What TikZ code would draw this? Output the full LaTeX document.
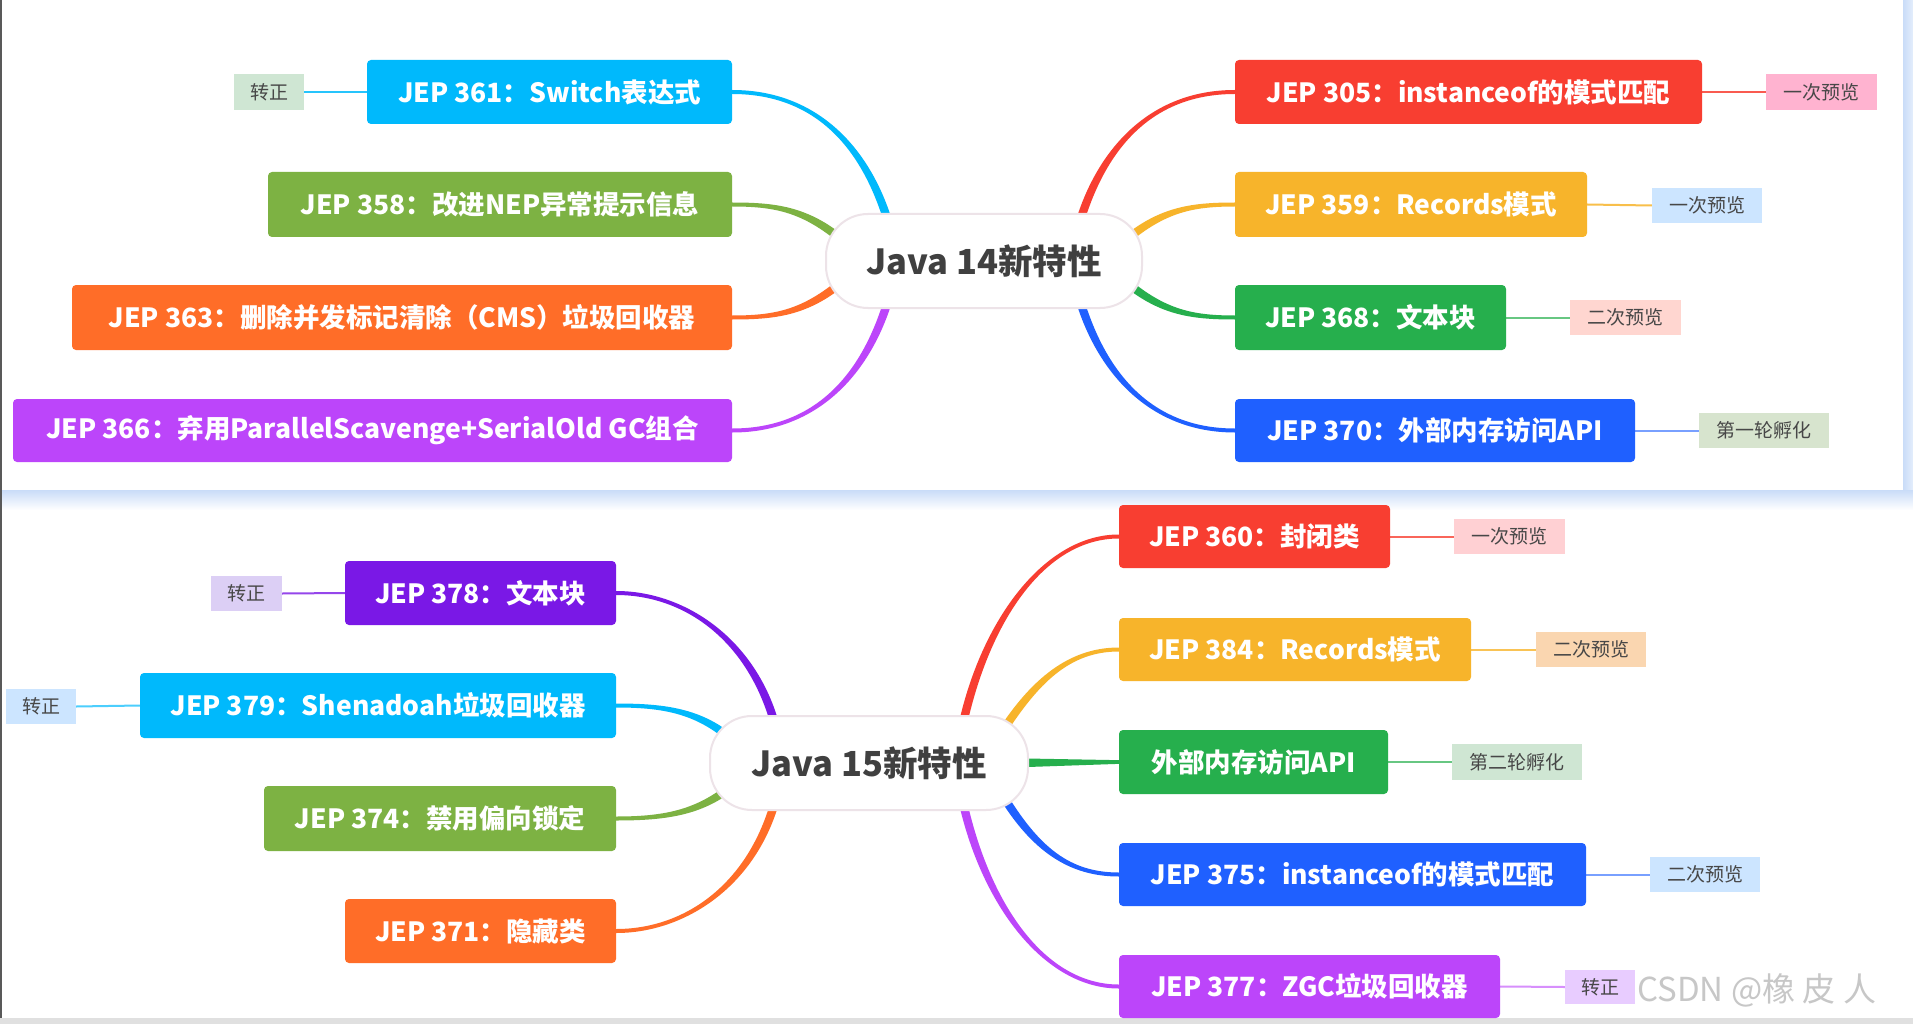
\documentclass[tikz,border=0pt]{standalone}
\usepackage{fontspec}
\setmainfont{Noto Sans CJK SC}
\usetikzlibrary{calc}
\pgfdeclarelayer{page}
\pgfdeclarelayer{links}
\pgfsetlayers{page,links,main}
\definecolor{cCyan}{HTML}{00B9FC}
\definecolor{cLGreen}{HTML}{7DB243}
\definecolor{cOrange}{HTML}{FF6D28}
\definecolor{cPurple}{HTML}{BC45FA}
\definecolor{cRed}{HTML}{F83E31}
\definecolor{cYellow}{HTML}{F7B42B}
\definecolor{cGreen}{HTML}{26AF4D}
\definecolor{cBlue}{HTML}{1F60FF}
\definecolor{cDPurple}{HTML}{7A18E6}
\definecolor{tagtext}{HTML}{474747}
\definecolor{hubtext}{HTML}{404040}
\definecolor{hubborder}{HTML}{EDE3E8}
\definecolor{shadowblue}{HTML}{C9DCF8}
\definecolor{tGreen}{HTML}{CFE6D3}
\definecolor{tPink}{HTML}{FFB3D0}
\definecolor{tBlue}{HTML}{CCE5FF}
\definecolor{tSalmon}{HTML}{FFD6D0}
\definecolor{tSage}{HTML}{D7E4CE}
\definecolor{tLav}{HTML}{DCCFF5}
\definecolor{tRose}{HTML}{FFD0D3}
\definecolor{tPeach}{HTML}{FAD6B0}
\definecolor{tLilac}{HTML}{E8CCFF}
% tapered branch: #1 colour, #2 hub anchor, #3 start, #4 control 1, #5 control 2, #6 box anchor
\newcommand\taperlink[6]{%
  \fill[#1] (#2) -- ($(#3)!4.2pt!90:(#4)$)
    .. controls ($(#4)!4.2pt!-90:(#3)$) and ($(#5)!2pt!90:(#6)$) .. ($(#6)!2pt!-90:(#5)$)
    -- ($(#6)!2pt!90:(#5)$)
    .. controls ($(#5)!2pt!-90:(#6)$) and ($(#4)!4.2pt!90:(#3)$) .. ($(#3)!4.2pt!-90:(#4)$)
    -- cycle;}
\begin{document}
\begin{tikzpicture}[x=1pt,y=-1pt,
  box/.style={rounded corners=4pt, inner sep=0pt, text=white,
    font=\fontsize{26.5}{30}\selectfont\bfseries},
  tag/.style={inner sep=0pt, text=tagtext, font=\fontsize{19}{22}\selectfont},
  hub/.style={draw=hubborder, line width=2pt, fill=white, rounded corners=42pt,
    inner sep=0pt, minimum height=94pt, text=hubtext,
    font=\fontsize{34.5}{40}\selectfont\bfseries},
  leaf/.style={line width=2pt},
  wm/.style={inner sep=0pt, text=black!22, font=\fontsize{33}{38}\selectfont}]
\useasboundingbox (0,0) rectangle (1913,1024);
% background
\begin{pgfonlayer}{page}
\fill[white] (0,0) rectangle (1913,1024);
\shade[left color=shadowblue, right color=shadowblue!50] (1903,0) rectangle (1913,490);
\shade[top color=shadowblue, bottom color=white] (0,490) rectangle (1913,510);
\fill[black!12] (0,1018) rectangle (1913,1024);
\draw[black!65, line width=2pt] (1,0) -- (1,1018);
\end{pgfonlayer}

% ---------------- Java 14 ----------------
\node[hub, minimum width=316pt] (h14) at (984,261) {Java 14新特性};
\node[box, fill=cCyan, minimum width=365pt, minimum height=64pt] (j361) at (549.5,92) {JEP 361：Switch表达式};
\node[box, fill=cLGreen, minimum width=464pt, minimum height=65pt] (j358) at (500,204.5) {JEP 358：改进NEP异常提示信息};
\node[box, fill=cOrange, minimum width=660pt, minimum height=65pt] (j363) at (402,317.5) {JEP 363：删除并发标记清除（CMS）垃圾回收器};
\node[box, fill=cPurple, minimum width=719pt, minimum height=63pt] (j366) at (372.5,430.5) {JEP 366：弃用ParallelScavenge+SerialOld GC组合};
\node[box, fill=cRed, minimum width=467pt, minimum height=64pt] (j305) at (1468.5,92) {JEP 305：instanceof的模式匹配};
\node[box, fill=cYellow, minimum width=352pt, minimum height=65pt] (j359) at (1411,204.5) {JEP 359：Records模式};
\node[box, fill=cGreen, minimum width=271pt, minimum height=65pt] (j368) at (1370.5,317.5) {JEP 368：文本块};
\node[box, fill=cBlue, minimum width=400pt, minimum height=63pt] (j370) at (1435,430.5) {JEP 370：外部内存访问API};

\node[tag, fill=tGreen, minimum width=70pt, minimum height=36pt] (t361) at (269,92) {转正};
\node[tag, fill=tPink, minimum width=111pt, minimum height=36pt] (t305) at (1821.5,92) {一次预览};
\node[tag, fill=tBlue, minimum width=110pt, minimum height=35pt] (t359) at (1707,205.5) {一次预览};
\node[tag, fill=tSalmon, minimum width=111pt, minimum height=35pt] (t368) at (1625.5,317.5) {二次预览};
\node[tag, fill=tSage, minimum width=130pt, minimum height=35pt] (t370) at (1764,430.5) {第一轮孵化};

% ---------------- Java 15 ----------------
\node[hub, minimum width=318pt] (h15) at (869,763) {Java 15新特性};
\node[box, fill=cDPurple, minimum width=271pt, minimum height=64pt] (j378) at (480.5,593) {JEP 378：文本块};
\node[box, fill=cCyan, minimum width=476pt, minimum height=65pt] (j379) at (378,705.5) {JEP 379：Shenadoah垃圾回收器};
\node[box, fill=cLGreen, minimum width=352pt, minimum height=65pt] (j374) at (440,818.5) {JEP 374：禁用偏向锁定};
\node[box, fill=cOrange, minimum width=271pt, minimum height=64pt] (j371) at (480.5,931) {JEP 371：隐藏类};
\node[box, fill=cRed, minimum width=271pt, minimum height=63pt] (j360) at (1254.5,536.5) {JEP 360：封闭类};
\node[box, fill=cYellow, minimum width=352pt, minimum height=63pt] (j384) at (1295,649.5) {JEP 384：Records模式};
\node[box, fill=cGreen, minimum width=269pt, minimum height=64pt] (api) at (1253.5,762) {外部内存访问API};
\node[box, fill=cBlue, minimum width=467pt, minimum height=63pt] (j375) at (1352.5,874.5) {JEP 375：instanceof的模式匹配};
\node[box, fill=cPurple, minimum width=381pt, minimum height=63pt] (j377) at (1309.5,986.5) {JEP 377：ZGC垃圾回收器};

\node[tag, fill=tLav, minimum width=71pt, minimum height=35pt] (t378) at (246.5,593.5) {转正};
\node[tag, fill=tBlue, minimum width=70pt, minimum height=35pt] (t379) at (41,706.5) {转正};
\node[tag, fill=tRose, minimum width=111pt, minimum height=35pt] (t360) at (1509.5,536.5) {一次预览};
\node[tag, fill=tPeach, minimum width=110pt, minimum height=35pt] (t384) at (1591,649.5) {二次预览};
\node[tag, fill=tGreen, minimum width=130pt, minimum height=36pt] (tapi) at (1517,762) {第二轮孵化};
\node[tag, fill=tBlue, minimum width=110pt, minimum height=35pt] (t375) at (1705,874.5) {二次预览};
\node[tag, fill=tLilac, minimum width=70pt, minimum height=34pt] (t377) at (1600,987) {转正};

\node[wm, anchor=west] (wm) at (1637,990) {CSDN @橡 皮 人};

% ---------------- connectors (behind the nodes) ----------------
\begin{pgfonlayer}{links}
% Java 14 branches
\taperlink{cRed}{h14.center}{1078,228}{1100,150}{1150,92}{j305.west}
\taperlink{cYellow}{h14.center}{1120,245}{1160,210}{1190,204.5}{j359.west}
\taperlink{cGreen}{h14.center}{1120,277}{1160,312}{1190,317.5}{j368.west}
\taperlink{cBlue}{h14.center}{1078,294}{1100,372}{1150,430.5}{j370.west}
\taperlink{cCyan}{h14.center}{890,228}{868,150}{818,92}{j361.east}
\taperlink{cLGreen}{h14.center}{848,245}{808,210}{778,204.5}{j358.east}
\taperlink{cOrange}{h14.center}{848,277}{808,312}{778,317.5}{j363.east}
\taperlink{cPurple}{h14.center}{890,294}{868,372}{818,430.5}{j366.east}
% Java 15 branches
\taperlink{cRed}{h15.center}{962,728}{985,620}{1045,536.5}{j360.west}
\taperlink{cYellow}{h15.center}{1000,735}{1035,680}{1070,649.5}{j384.west}
\fill[cGreen] ($(h15.east)+(-30,-5)$) -- ($(api.west)+(2,-1.8)$) -- ($(api.west)+(2,1.8)$) -- ($(h15.east)+(-30,5)$) -- cycle;
\taperlink{cBlue}{h15.center}{1000,791}{1035,850}{1070,874.5}{j375.west}
\taperlink{cPurple}{h15.center}{962,798}{985,905}{1045,986.5}{j377.west}
\taperlink{cDPurple}{h15.center}{776,728}{753,640}{685,593}{j378.east}
\taperlink{cCyan}{h15.center}{738,745}{703,712}{668,705.5}{j379.east}
\taperlink{cLGreen}{h15.center}{738,781}{703,812}{668,818.5}{j374.east}
\taperlink{cOrange}{h15.center}{776,798}{753,885}{685,931}{j371.east}
% tag links
\draw[leaf, cCyan!85] (j361.west) -- (t361.east);
\draw[leaf, cRed!85] (j305.east) -- (t305.west);
\draw[leaf, cYellow!85] (j359.east) -- (t359.west);
\draw[leaf, cGreen!70] (j368.east) -- (t368.west);
\draw[leaf, cBlue!60] (j370.east) -- (t370.west);
\draw[leaf, cDPurple!80] (j378.west) -- (t378.east);
\draw[leaf, cCyan!70] (j379.west) -- (t379.east);
\draw[leaf, cRed!80] (j360.east) -- (t360.west);
\draw[leaf, cYellow!80] (j384.east) -- (t384.west);
\draw[leaf, cGreen!70] (api.east) -- (tapi.west);
\draw[leaf, cBlue!60] (j375.east) -- (t375.west);
\draw[leaf, cPurple!60] (j377.east) -- (t377.west);
\end{pgfonlayer}
\end{tikzpicture}
\end{document}
